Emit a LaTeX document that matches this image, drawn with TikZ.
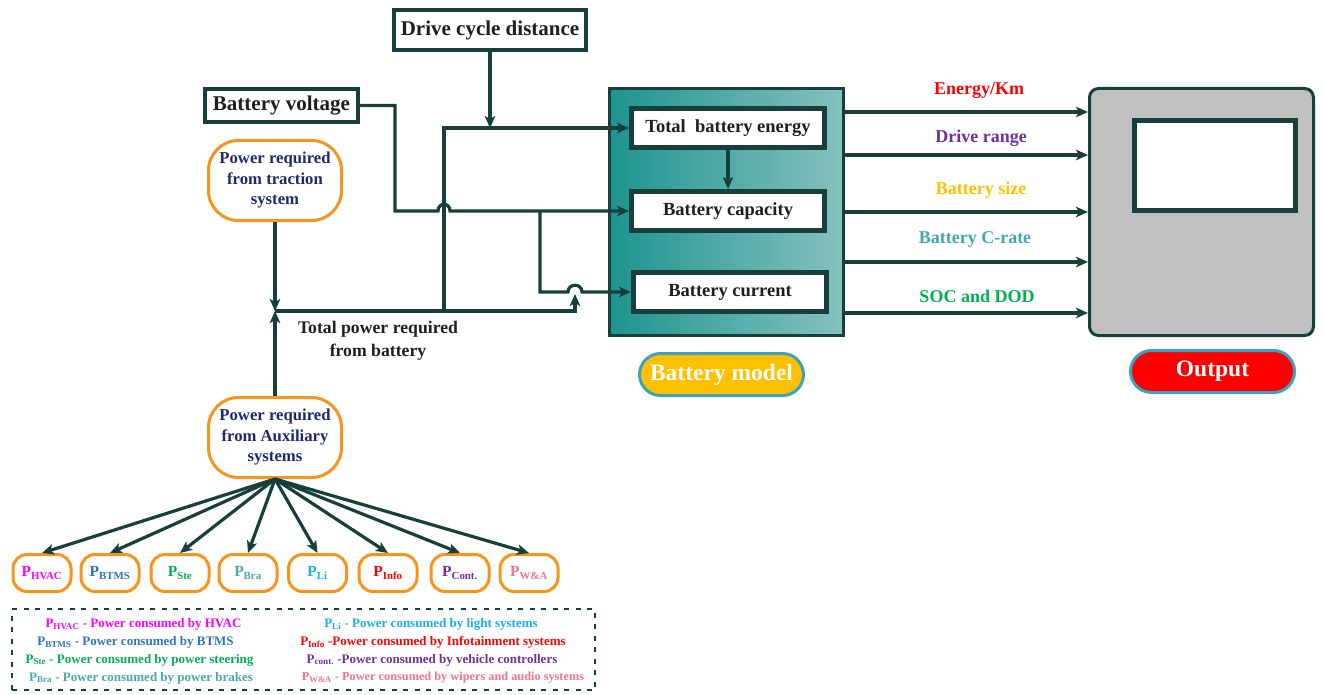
\documentclass[tikz,border=0pt]{standalone}
\usepackage{fontspec}
\setmainfont{Liberation Serif}
\usetikzlibrary{arrows.meta}

% palette
\definecolor{lineC}{HTML}{173F3B}
\definecolor{txtC}{HTML}{1E1E1E}
\definecolor{navyC}{HTML}{1F2A6E}
\definecolor{orangeC}{HTML}{F7941D}
\definecolor{tealL}{HTML}{1E948F}
\definecolor{tealR}{HTML}{86C1C0}
\definecolor{grayC}{HTML}{C0C0C0}
\definecolor{pillB}{HTML}{3BA3BF}
\definecolor{goldC}{HTML}{FFC000}
\definecolor{redC}{HTML}{FF0000}
\definecolor{purpleC}{HTML}{7030A0}
\definecolor{crateC}{HTML}{3FA9AD}
\definecolor{greenC}{HTML}{00B050}
\definecolor{magC}{HTML}{FF00FF}
\definecolor{btmsC}{HTML}{2E75B6}
\definecolor{braC}{HTML}{47A9A9}
\definecolor{liC}{HTML}{17B0EA}
\definecolor{waC}{HTML}{F4728A}

% power symbol with subscript
\newcommand{\Ps}[1]{P\textsubscript{#1}}

\begin{document}
\begin{tikzpicture}[x=1pt,y=-1pt,
  conn/.style={draw=lineC, line width=3.2pt, -{Stealth[length=12pt,width=10.5pt,inset=3pt]}},
  inbox/.style={draw=lineC, line width=3.5pt, fill=white, inner sep=0pt,
    text=txtC, font=\bfseries\fontsize{21}{25}\selectfont},
  calcbox/.style={draw=lineC, line width=5pt, fill=white, inner sep=0pt,
    minimum width=193pt, minimum height=39pt,
    text=txtC, font=\bfseries\fontsize{18.5}{22}\selectfont},
  need/.style={draw=orangeC, line width=3pt, fill=white, rounded corners=30pt,
    minimum width=133pt, minimum height=80pt, inner sep=0pt, align=center,
    text=navyC, font=\bfseries\fontsize{16.7}{20.5}\selectfont},
  pbox/.style={draw=orangeC, line width=3pt, fill=white, rounded corners=14pt,
    minimum width=58pt, minimum height=37pt, inner sep=0pt,
    font=\bfseries\fontsize{15.5}{18}\selectfont},
  pill/.style={draw=pillB, line width=3pt, rounded corners=21pt,
    minimum width=164pt, minimum height=42pt, inner sep=0pt,
    text=white, font=\bfseries\fontsize{23.5}{28}\selectfont},
  outlabel/.style={font=\bfseries\fontsize{18}{22}\selectfont, inner sep=0pt},
  legend/.style={font=\bfseries\fontsize{13}{15}\selectfont, inner sep=0pt},
]
\useasboundingbox (0,0) rectangle (1324,695);

% inputs
\node[inbox, minimum width=192pt, minimum height=40pt] (dcd) at (490,30) {Drive cycle distance};
\node[inbox, minimum width=153pt, minimum height=33pt] (bv) at (281.5,105.5) {Battery voltage};
\node[need] (trac) at (275,180.5) {Power required\\from traction\\system};
\node[need] (aux) at (275,437.5) {Power required\\from Auxiliary\\systems};

% battery model block
\node[draw=lineC, line width=3pt, left color=tealL, right color=tealR,
      minimum width=234pt, minimum height=247pt, inner sep=0pt] (bm) at (726.5,212) {};
\node[calcbox] (tbe) at (728,128) {Total\ \ battery energy};
\node[calcbox] (bcap) at (728,211) {Battery capacity};
\node[calcbox] (bcur) at (730,292) {Battery current};
\node[pill, fill=goldC] (bmlab) at (721.5,374.5) {Battery model};

% output block
\node[draw=lineC, line width=3pt, fill=grayC, rounded corners=9pt,
      minimum width=224pt, minimum height=247pt, inner sep=0pt] (out) at (1201.5,212) {};
\node[draw=lineC, line width=5pt, fill=white,
      minimum width=161pt, minimum height=90pt, inner sep=0pt] (scr) at (1215,165.5) {};
\node[pill, fill=redC] (outlab) at (1212.5,371.5) {Output};

% junctions of the power lines
\coordinate (jsum) at (275,311);
\coordinate (jright) at (575,311);
\coordinate (jtap) at (444,311);
\coordinate (etop) at (444,128);
\coordinate (vbend) at (395,105.5);
\coordinate (vdown) at (395,211);
\coordinate (csplit) at (540,211);
\coordinate (cdown) at (540,292);

\draw[conn] (dcd.south) -- (dcd.south |- etop);
\draw[conn] (trac.south) -- (jsum);
\draw[conn] (aux.north) -- (jsum);
\draw[conn] (jsum) -- (jright) -- (575,294);
\draw[conn] (jtap) -- (etop) -- (tbe.west);
\draw[conn] (bv.east) -- (vbend) -- (vdown) -- (438,211)
  .. controls (438,202) and (450,202) .. (450,211) -- (bcap.west);
\draw[conn] (csplit) -- (cdown) -- (568,292)
  .. controls (568,283) and (582,283) .. (582,292) -- (bcur.west);
\draw[conn] (tbe.south) -- (bcap.north);

\node[font=\bfseries\fontsize{17.7}{23}\selectfont, text=txtC, align=center, inner sep=0pt]
  (tp) at (378,341) {Total power required\\from battery};

% results passed to the output block
\foreach \yy/\nm in {112/o1,155/o2,212/o3,262/o4,313/o5}{
  \coordinate (\nm) at (0,\yy);
  \draw[conn] (bm.east |- \nm) -- (out.west |- \nm);
}
\node[outlabel, text=redC]    (l1) at (979,91)  {Energy/Km};
\node[outlabel, text=purpleC] (l2) at (981,138) {Drive range};
\node[outlabel, text=goldC]   (l3) at (981,190) {Battery size};
\node[outlabel, text=crateC]  (l4) at (975,239) {Battery C-rate};
\node[outlabel, text=greenC]  (l5) at (977,296) {SOC and DOD};

% auxiliary consumers
\node[pbox, text=magC]    (p1) at (42,573)  {\Ps{HVAC}};
\node[pbox, text=btmsC]   (p2) at (110,573) {\Ps{BTMS}};
\node[pbox, text=greenC]  (p3) at (180,573) {\Ps{Ste}};
\node[pbox, text=braC]    (p4) at (248,573) {\Ps{Bra}};
\node[pbox, text=liC]     (p5) at (317.5,573) {\Ps{Li}};
\node[pbox, text=redC]    (p6) at (388,573) {\Ps{Info}};
\node[pbox, text=purpleC] (p7) at (460,573) {\Ps{Cont.}};
\node[pbox, text=waC]     (p8) at (529,573) {\Ps{W\&A}};
\foreach \n in {p1,p2,p3,p4,p5,p6,p7,p8}
  \draw[conn] (aux.south) -- (\n.north);

% legend
\node[draw=lineC, line width=2.8pt, dash pattern=on 5pt off 6.5pt,
      minimum width=583pt, minimum height=81pt, inner sep=0pt] (leg) at (303.5,649.5) {};
\node[legend, text=magC]    (k1) at (143.5,624) {\Ps{HVAC} - Power consumed by HVAC};
\node[legend, text=btmsC]   (k2) at (135.5,642) {\Ps{BTMS} - Power consumed by BTMS};
\node[legend, text=greenC]  (k3) at (139.5,660) {\Ps{Ste} - Power consumed by power steering};
\node[legend, text=braC]    (k4) at (141,678)   {\Ps{Bra} - Power consumed by power brakes};
\node[legend, text=liC]     (k5) at (431,624)   {\Ps{Li} - Power consumed by light systems};
\node[legend, text=redC]    (k6) at (433,642)   {\Ps{Info} -Power consumed by Infotainment systems};
\node[legend, text=purpleC] (k7) at (432,660)   {\Ps{cont.} -Power consumed by vehicle controllers};
\node[legend, text=waC, font=\bfseries\fontsize{12.3}{15}\selectfont]
                            (k8) at (443,678)   {\Ps{W\&A} - Power consumed by wipers and audio systems};
\end{tikzpicture}
\end{document}
